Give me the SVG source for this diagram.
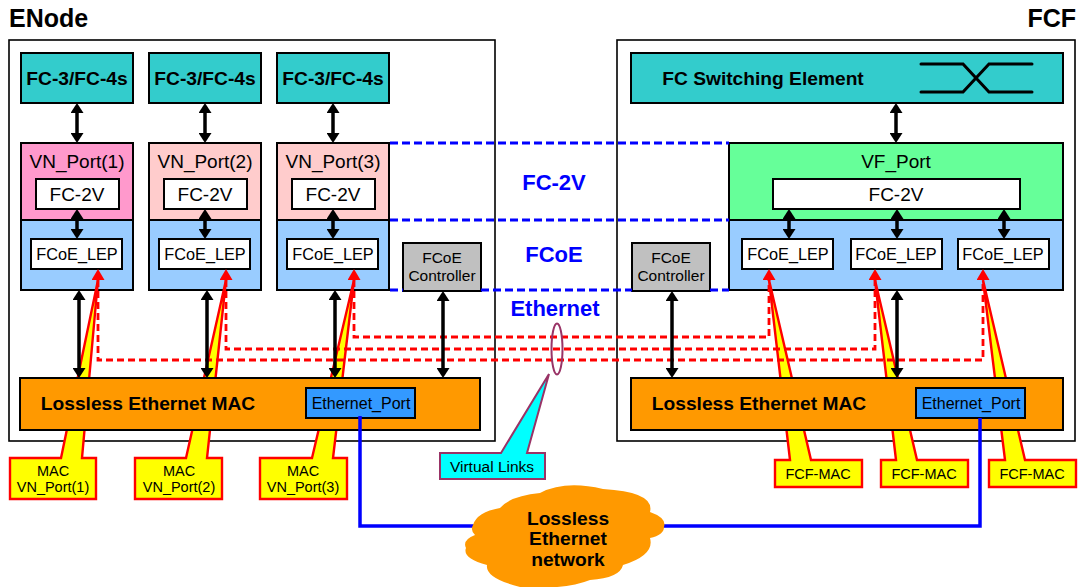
<svg xmlns="http://www.w3.org/2000/svg" width="1079" height="587" viewBox="0 0 1079 587">
<defs>
<style>
text{font-family:"Liberation Sans",Arial,sans-serif;fill:#000;text-anchor:middle}
.b{stroke:#000;stroke-width:2}
.t{font-weight:bold;font-size:19.2px}
.p{font-size:19px}
.l{font-size:16.3px}
.c{font-size:14.5px}
.teal{fill:#33cccc}.blue{fill:#99ccff}.w{fill:#fff}.o{fill:#ff9900}.g{fill:#c0c0c0}.e{fill:#3399ff}
.call{fill:#ffff00;stroke:#ff0000;stroke-width:2.4;stroke-linejoin:miter}
.bi{fill:none;stroke:#000;stroke-width:3.5;marker-start:url(#bk);marker-end:url(#bk)}
.rd{fill:none;stroke:#ff0000;stroke-width:2.8;stroke-dasharray:7 4;marker-start:url(#rh);marker-end:url(#rh)}
.bd{fill:none;stroke:#0000ff;stroke-width:3;stroke-dasharray:8 4}
.layer{fill:#0000ff;font-weight:bold;font-size:22px}
</style>
<marker id="bk" markerUnits="userSpaceOnUse" markerWidth="10" markerHeight="13" refX="0" refY="6.5" orient="auto-start-reverse" viewBox="0 0 10 13"><path d="M0 0L10 6.5L0 13z" fill="#000"/></marker>
<marker id="rh" markerUnits="userSpaceOnUse" markerWidth="11" markerHeight="13" refX="0" refY="6.5" orient="auto-start-reverse" viewBox="0 0 11 13"><path d="M0 0L11 6.5L0 13z" fill="#ff0000"/></marker>
</defs>
<rect width="1079" height="587" fill="#fff"/>
<g id="enode"><rect x="9" y="40" width="486" height="401" fill="#fff" stroke="#000" stroke-width="1.6"/><text x="9" y="27" style="text-anchor:start;font-weight:bold;font-size:25px">ENode</text></g>
<g id="fcf"><rect x="617" y="40" width="458" height="401" fill="#fff" stroke="#000" stroke-width="1.6"/><text x="1076" y="27" style="text-anchor:end;font-weight:bold;font-size:25px">FCF</text></g>

<g id="fc4-1"><rect class="b teal" x="21" y="53" width="112" height="50"/><text class="t" x="77" y="85">FC-3/FC-4s</text></g>
<g id="fc4-2"><rect class="b teal" x="149" y="53" width="112" height="50"/><text class="t" x="205" y="85">FC-3/FC-4s</text></g>
<g id="fc4-3"><rect class="b teal" x="277" y="53" width="112" height="50"/><text class="t" x="333" y="85">FC-3/FC-4s</text></g>

<g id="vn1"><rect class="b" fill="#ff99cc" x="21" y="143" width="112" height="77"/><text class="p" x="77" y="168">VN_Port(1)</text></g>
<g id="vn2"><rect class="b" fill="#ffcccc" x="149" y="143" width="112" height="77"/><text class="p" x="205" y="168">VN_Port(2)</text></g>
<g id="vn3"><rect class="b" fill="#ffcccc" x="277" y="143" width="112" height="77"/><text class="p" x="333" y="168">VN_Port(3)</text></g>
<g id="fcoe1"><rect class="b blue" x="21" y="220" width="112" height="70"/></g>
<g id="fcoe2"><rect class="b blue" x="149" y="220" width="112" height="70"/></g>
<g id="fcoe3"><rect class="b blue" x="277" y="220" width="112" height="70"/></g>
<g id="fc2v1"><rect class="b w" x="36" y="179" width="83" height="30"/><text class="p" x="77" y="201">FC-2V</text></g>
<g id="fc2v2"><rect class="b w" x="164" y="179" width="83" height="30"/><text class="p" x="205" y="201">FC-2V</text></g>
<g id="fc2v3"><rect class="b w" x="292" y="179" width="83" height="30"/><text class="p" x="333" y="201">FC-2V</text></g>
<g id="lep1"><rect class="b w" x="31" y="239" width="91" height="30"/><text class="l" x="77" y="260">FCoE_LEP</text></g>
<g id="lep2"><rect class="b w" x="159" y="239" width="91" height="30"/><text class="l" x="205" y="260">FCoE_LEP</text></g>
<g id="lep3"><rect class="b w" x="287" y="239" width="91" height="30"/><text class="l" x="333" y="260">FCoE_LEP</text></g>

<g id="ctrl-l"><rect class="b g" x="403" y="243" width="78" height="48"/><text x="442" y="263" style="font-size:15.5px">FCoE</text><text x="442" y="281" style="font-size:15.5px">Controller</text></g>
<g id="ctrl-r"><rect class="b g" x="632" y="243" width="78" height="48"/><text x="671" y="263" style="font-size:15.5px">FCoE</text><text x="671" y="281" style="font-size:15.5px">Controller</text></g>

<g id="switch"><rect class="b teal" x="631" y="53" width="432" height="50"/><text class="t" x="763" y="85">FC Switching Element</text><path d="M921 64H963L989 92H1032M921 92H963L989 64H1032" fill="none" stroke="#000" stroke-width="3" stroke-linecap="round"/></g>
<g id="vf"><rect class="b" fill="#66ff99" x="729" y="143" width="334" height="77"/><text class="p" x="896" y="168">VF_Port</text></g>
<g id="fcoe-r"><rect class="b blue" x="729" y="220" width="334" height="70"/></g>
<g id="fc2v-r"><rect class="b w" x="773" y="179" width="247" height="30"/><text class="p" x="896" y="201">FC-2V</text></g>
<g id="lep-r1"><rect class="b w" x="742" y="239" width="91" height="30"/><text class="l" x="788" y="260">FCoE_LEP</text></g>
<g id="lep-r2"><rect class="b w" x="851" y="239" width="91" height="30"/><text class="l" x="896" y="260">FCoE_LEP</text></g>
<g id="lep-r3"><rect class="b w" x="958" y="239" width="91" height="30"/><text class="l" x="1003" y="260">FCoE_LEP</text></g>

<g id="callout-mac1"><path class="call" d="M61 458L98 280L82 458H96V499H10V458z"/><text class="c" x="53" y="476">MAC</text><text class="c" x="53" y="492">VN_Port(1)</text></g>
<g id="callout-mac2"><path class="call" d="M186 458L226 280L207 458H222V499H135V458z"/><text class="c" x="179" y="476">MAC</text><text class="c" x="179" y="492">VN_Port(2)</text></g>
<g id="callout-mac3"><path class="call" d="M312 458L354 280L333 458H347V499H260V458z"/><text class="c" x="303" y="476">MAC</text><text class="c" x="303" y="492">VN_Port(3)</text></g>
<g id="callout-fcf1"><path class="call" d="M790 460L769 280L811 460H862V487H775V460z"/><text class="c" x="818" y="479">FCF-MAC</text></g>
<g id="callout-fcf2"><path class="call" d="M896 460L875 280L917 460H968V487H881V460z"/><text class="c" x="924" y="479">FCF-MAC</text></g>
<g id="callout-fcf3"><path class="call" d="M1005 460L983 280L1025 460H1076V487H989V460z"/><text class="c" x="1032" y="479">FCF-MAC</text></g>
<g id="callout-virtual"><path d="M501 453L549 374L527 453H545V479H440V453z" fill="#00ffff" stroke="#993366" stroke-width="2"/><text x="492" y="472" style="font-size:15.5px">Virtual Links</text></g>

<g id="mac-l"><rect class="b o" x="20" y="378" width="460" height="52"/><text class="t" x="148" y="410">Lossless Ethernet MAC</text></g>
<g id="mac-r"><rect class="b o" x="631" y="378" width="432" height="52"/><text class="t" x="759" y="410">Lossless Ethernet MAC</text></g>
<g id="eth-l"><rect class="b e" x="306" y="388" width="109" height="30"/><text x="361" y="409" style="font-size:16px">Ethernet_Port</text></g>
<g id="eth-r"><rect class="b e" x="916" y="388" width="109" height="30"/><text x="971" y="409" style="font-size:16px">Ethernet_Port</text></g>

<g id="connectors">
<path class="bd" d="M390 143H729M390 220H729M390 290H403M481 290H632M710 290H729"/>
<path class="rd" d="M98 280V360H983V280"/>
<path class="rd" d="M226 280V349H875V280"/>
<path class="rd" d="M354 280V337H769V280"/>
<ellipse cx="557" cy="349" rx="5.5" ry="25.5" fill="none" stroke="#993366" stroke-width="2"/>
<path d="M360 416V526H980V418" fill="none" stroke="#0000ff" stroke-width="3.5"/>
<path class="bi" d="M77 113V133"/><path class="bi" d="M205 113V133"/><path class="bi" d="M333 113V133"/>
<path class="bi" d="M77 219V229"/><path class="bi" d="M205 219V229"/><path class="bi" d="M333 219V229"/>
<path class="bi" d="M79 300V368"/><path class="bi" d="M207 300V368"/><path class="bi" d="M335 300V368"/>
<path class="bi" d="M443 301V368"/><path class="bi" d="M672 301V368"/><path class="bi" d="M897 300V368"/>
<path class="bi" d="M896 113V133"/>
<path class="bi" d="M789 219V229"/><path class="bi" d="M897 219V229"/><path class="bi" d="M1004 219V229"/>
</g>

<g id="cloud"><path class="o" d="M473 525Q477 512 500 508Q510 496 540 493Q565 480 603 489Q655 492 650 512Q667 518 664 527Q664 535 650 538Q655 555 623 565Q620 578 590 580Q565 590 520 587Q485 578 487 565Q462 558 466 548Q462 540 475 535Q470 530 473 525z"/><text class="t" x="568" y="525">Lossless</text><text class="t" x="568" y="545">Ethernet</text><text class="t" x="568" y="566">network</text></g>

<g id="labels"><text class="layer" x="554" y="190">FC-2V</text><text class="layer" x="554" y="262">FCoE</text><text class="layer" x="555" y="316">Ethernet</text></g>
</svg>
